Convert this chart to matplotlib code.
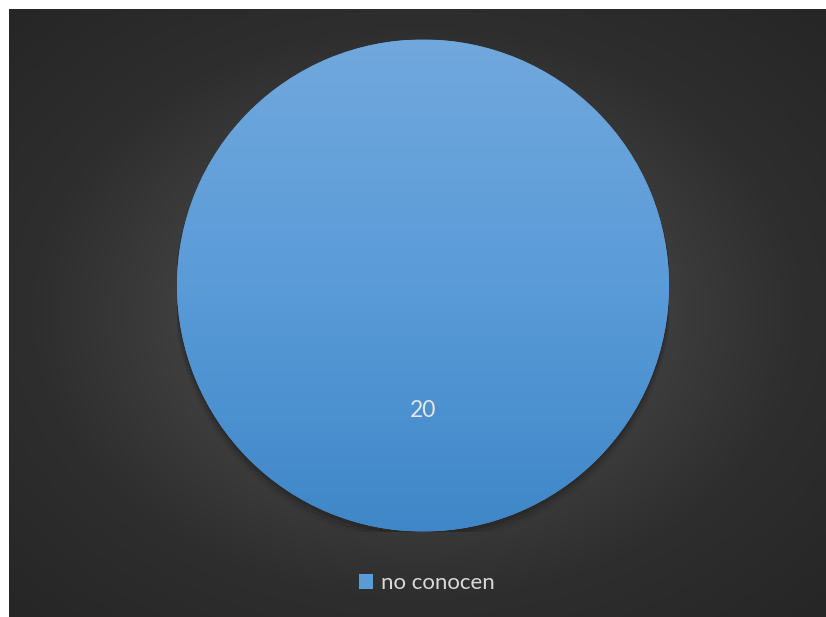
import matplotlib.pyplot as plt
import numpy as np
from matplotlib.colors import LinearSegmentedColormap
from matplotlib.patches import Circle

categorias = ['no conocen']
valores = [20]

W, H = 826, 617
fig = plt.figure(figsize=(W / 100, H / 100), dpi=100)
fig.patch.set_facecolor('white')

# fondo oscuro con degradado radial
bg = fig.add_axes([9 / W, 0, (W - 9) / W, (H - 9) / H])
bg.set_axis_off()
yy, xx = np.mgrid[-1:1:400j, -1:1:500j]
r = np.sqrt(xx ** 2 + yy ** 2) / np.sqrt(2)
fondo = LinearSegmentedColormap.from_list('fondo', ['#575757', '#434343', '#2e2e2e', '#262626'])
bg.imshow(r, cmap=fondo, aspect='auto', extent=[0, 1, 0, 1], vmin=0, vmax=1)
bg.set_xlim(0, 1)
bg.set_ylim(0, 1)

# pastel
cx, cy, rad = 423, H - 285.5, 246
ax = fig.add_axes([(cx - rad) / W, (cy - rad) / H, 2 * rad / W, 2 * rad / H])
ax.set_axis_off()
total = sum(valores)

# sombra suave bajo el circulo
for i, a in enumerate([0.05, 0.08, 0.12]):
    ax.add_patch(Circle((0, -0.012 * (3 - i)), 1.0 + 0.004 * (3 - i),
                        color='black', alpha=a, zorder=0, lw=0))

wedges, textos, autotextos = ax.pie(
    valores, labels=None, startangle=90, counterclock=False,
    colors=['#5b9bd5'], pctdistance=0.51,
    autopct=lambda p: f'{p * total / 100:.0f}',
    textprops=dict(color='#e6e6e6', fontsize=16.5, family=['Lato', 'DejaVu Sans']),
    wedgeprops=dict(linewidth=0))

# degradado vertical dentro del sector
azul = LinearSegmentedColormap.from_list('azul', ['#3f87c8', '#5a9bd8', '#71a8dd'])
grad = np.linspace(0, 1, 256).reshape(-1, 1)
img = ax.imshow(grad, cmap=azul, origin='lower', extent=[-1, 1, -1, 1],
                aspect='auto', zorder=1)
img.set_clip_path(wedges[0])
for t in autotextos:
    t.set_zorder(3)
ax.set_xlim(-1, 1)
ax.set_ylim(-1, 1)

leg = fig.legend(wedges, categorias, loc='center', bbox_to_anchor=(427 / W, (H - 583) / H),
                 frameon=False, handlelength=0.65, handleheight=0.65, handletextpad=0.35,
                 prop=dict(family=['Lato', 'DejaVu Sans'], size=16))
for t in leg.get_texts():
    t.set_color('#d9d9d9')

fig.savefig('out.png', dpi=100, facecolor=fig.get_facecolor())
